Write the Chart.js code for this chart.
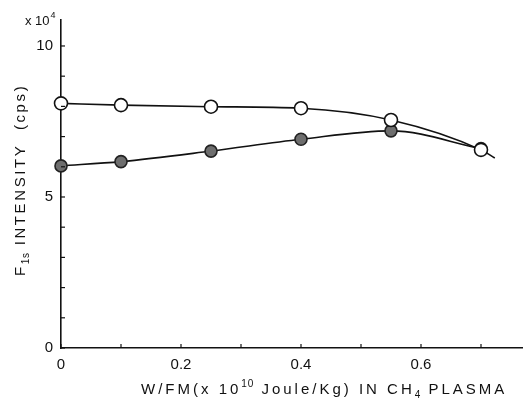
<!DOCTYPE html>
<html><head><meta charset="utf-8">
<script src="https://cdn.jsdelivr.net/npm/chart.js@4/dist/chart.umd.min.js"></script>
<style>html,body{margin:0;padding:0;background:#fff}#wrap{width:523px;height:398px}</style>
</head><body><div id="wrap"><canvas id="c" width="523" height="398"></canvas></div>
<script>
// ---- data ----
const xVals = [0, 0.1, 0.25, 0.4, 0.55, 0.7];
const openVals = [8.10, 8.04, 7.99, 7.94, 7.55, 6.56];
const filledVals = [6.03, 6.17, 6.52, 6.91, 7.19, 6.60];
const openTail = {x: 0.723, y: 6.29};
const xTicks = [0, 0.1, 0.2, 0.3, 0.4, 0.5, 0.6, 0.7];
const xTickLabels = {0: '0', 0.2: '0.2', 0.4: '0.4', 0.6: '0.6'};
const yTicks = [0, 1, 2, 3, 4, 5, 6, 7, 8, 9, 10];
const yTickLabels = {0: '0', 5: '5', 10: '10'};
const yUnit = ['x 10', '4'];
const xTitle = [['W/FM(x 10', 'n'], ['10', 'sup'], [' Joule/Kg) IN CH', 'n'], ['4', 'sub'], [' PLASMA', 'n']];
const yTitle = [['F', 'n'], ['1s', 'sub'], [' INTENSITY  (cps)', 'n']];

const FONT = '"Liberation Sans", Arial, sans-serif';

function drawRich(ctx, segs, x, y, size, spacing) {
  let cx = x;
  for (const [t, kind] of segs) {
    const s = kind === 'n' ? size : Math.round(size * 0.65);
    const dy = kind === 'sup' ? -size * 0.45 : kind === 'sub' ? size * 0.25 : 0;
    ctx.font = s + 'px ' + FONT;
    ctx.letterSpacing = (kind === 'n' ? spacing : spacing * 0.3) + 'px';
    ctx.fillText(t, cx, y + dy);
    cx += ctx.measureText(t).width;
  }
  return cx - x;
}

const decor = {
  id: 'decor',
  afterDraw(chart) {
    const ctx = chart.ctx;
    const xs = chart.scales.x, ys = chart.scales.y;
    ctx.save();
    ctx.strokeStyle = '#111';
    ctx.lineWidth = 1.2;
    // inward ticks
    for (const v of yTicks) {
      const p = ys.getPixelForValue(v);
      ctx.beginPath(); ctx.moveTo(xs.left, p); ctx.lineTo(xs.left + 4, p); ctx.stroke();
    }
    for (const v of xTicks) {
      const p = xs.getPixelForValue(v);
      ctx.beginPath(); ctx.moveTo(p, ys.bottom); ctx.lineTo(p, ys.bottom - 4); ctx.stroke();
    }
    ctx.fillStyle = '#111';
    ctx.textBaseline = 'alphabetic';
    ctx.textAlign = 'left';
    // unit label
    ctx.font = '13px ' + FONT;
    ctx.fillText(yUnit[0], 25, 25);
    const w = ctx.measureText(yUnit[0]).width;
    ctx.font = '9px ' + FONT;
    ctx.fillText(yUnit[1], 25 + w + 1, 18);
    // x title
    drawRich(ctx, xTitle, 141, 394, 15, 3.0);
    // y title
    ctx.translate(25, 276);
    ctx.rotate(-Math.PI / 2);
    drawRich(ctx, yTitle, 0, 0, 15, 2.6);
    ctx.restore();
  }
};

new Chart(document.getElementById('c'), {
  type: 'scatter',
  data: {
    datasets: [
      {
        label: 'open',
        data: xVals.map((x, i) => ({x, y: openVals[i]})).concat([openTail]),
        showLine: true,
        borderColor: '#111',
        borderWidth: 1.6,
        backgroundColor: '#fff',
        pointBackgroundColor: '#fff',
        pointBorderColor: '#111',
        pointBorderWidth: 1.6,
        pointRadius: xVals.map(() => 6.5).concat([0]),
        cubicInterpolationMode: 'monotone'
      },
      {
        label: 'filled',
        data: xVals.map((x, i) => ({x, y: filledVals[i]})),
        showLine: true,
        borderColor: '#111',
        borderWidth: 1.6,
        pointBackgroundColor: '#6e6e6e',
        pointBorderColor: '#222',
        pointBorderWidth: 1.6,
        pointRadius: 6,
        cubicInterpolationMode: 'monotone'
      }
    ]
  },
  options: {
    responsive: false,
    animation: false,
    layout: {autoPadding: false, padding: {top: 20, right: 0, left: 0, bottom: 0}},
    plugins: {legend: {display: false}, tooltip: {enabled: false}},
    clip: false,
    scales: {
      x: {
        type: 'linear', min: 0, max: 0.77,
        afterBuildTicks: s => { s.ticks = xTicks.map(v => ({value: v})); },
        afterFit: s => { s.height = 50; s.paddingLeft = 0; s.paddingRight = 0; },
        grid: {display: false, drawTicks: false},
        border: {display: true, color: '#111', width: 1.6},
        ticks: {
          autoSkip: false, maxRotation: 0, padding: 8,
          color: '#111', font: {family: FONT, size: 15},
          callback: v => xTickLabels[v] || ''
        }
      },
      y: {
        type: 'linear', min: 0, max: 10.86,
        afterBuildTicks: s => { s.ticks = yTicks.map(v => ({value: v})); },
        afterFit: s => { s.width = 61; s.paddingTop = 0; s.paddingBottom = 0; },
        grid: {display: false, drawTicks: false},
        border: {display: true, color: '#111', width: 1.6},
        ticks: {
          autoSkip: false, padding: 8,
          color: '#111', font: {family: FONT, size: 15},
          callback: v => yTickLabels[v] || ''
        }
      }
    }
  },
  plugins: [decor]
});
</script></body></html>
